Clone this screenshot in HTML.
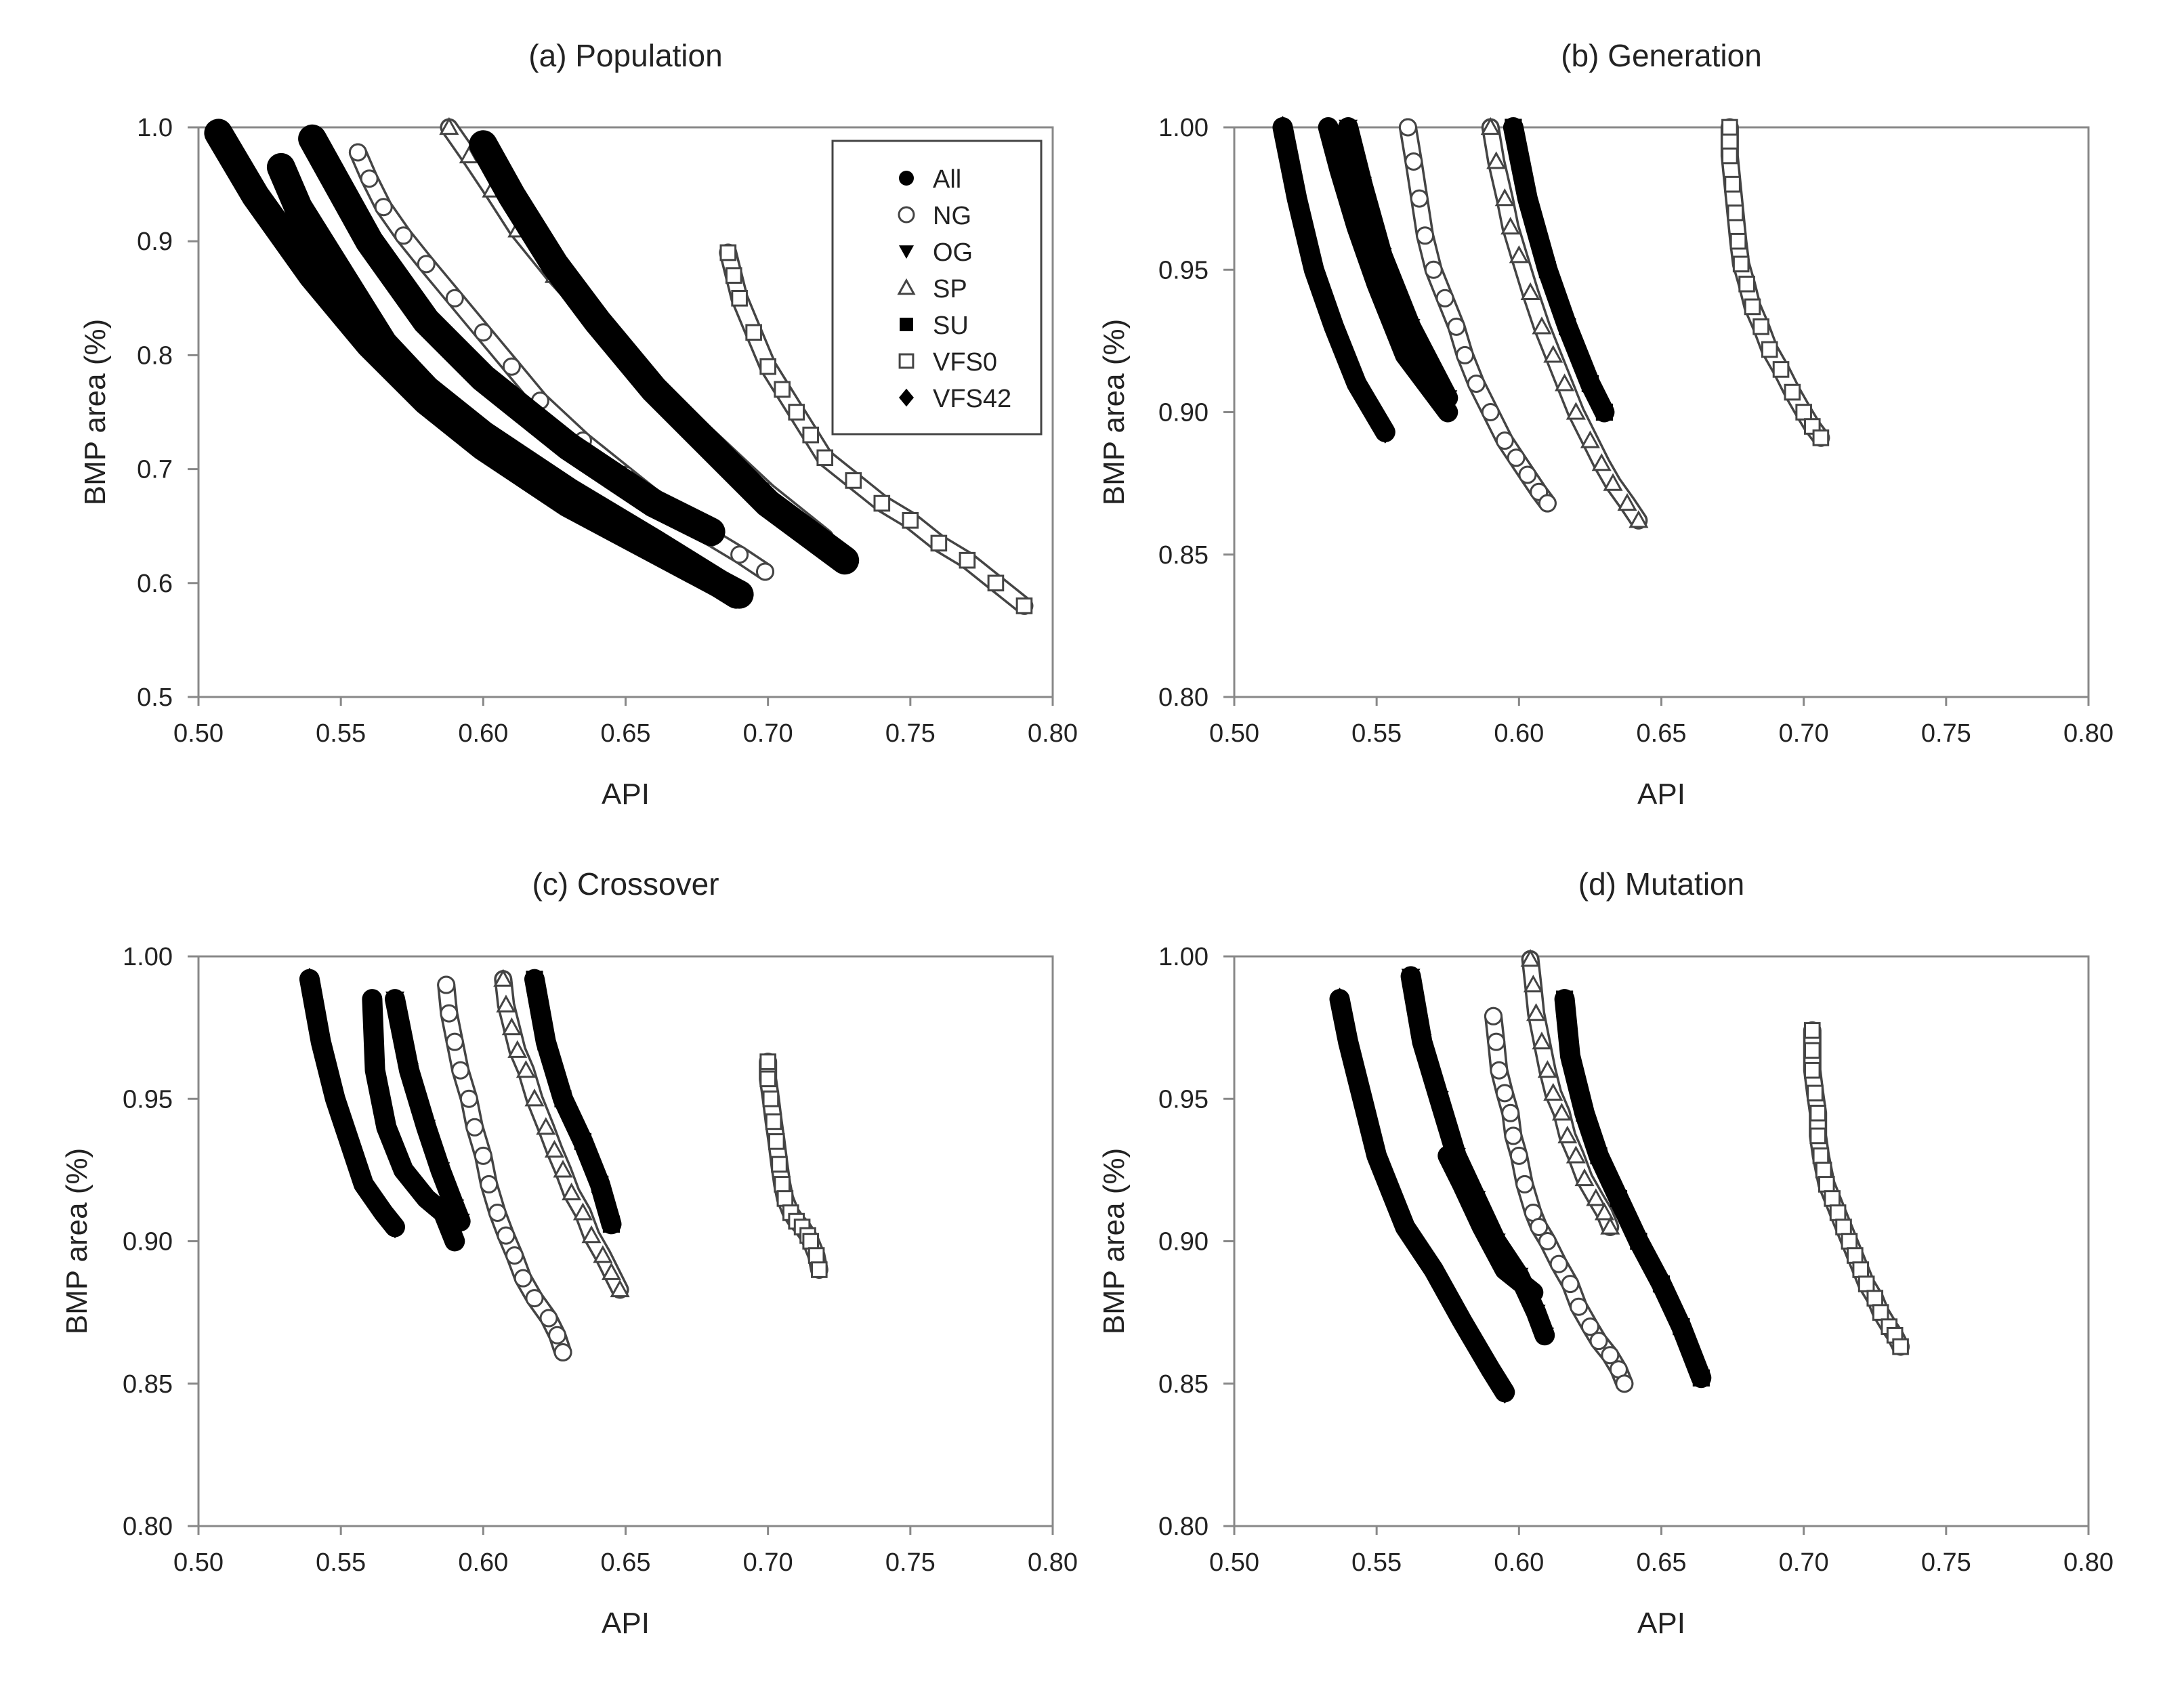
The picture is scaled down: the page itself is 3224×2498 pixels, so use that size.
<!DOCTYPE html>
<html><head><meta charset="utf-8"><style>
html,body{margin:0;padding:0;background:#fff}
svg{display:block}
text{font-family:"Liberation Sans",sans-serif;fill:#222}
</style></head><body>
<svg id="fig" width="3224" height="2498" viewBox="0 0 3224 2498" xmlns="http://www.w3.org/2000/svg"></svg>
<script>
const seriesNames = ["All","NG","OG","SP","SU","VFS0","VFS42"];
const seriesMarkers = ["circle","ocircle","tdown","otup","square","osquare","diamond"];
const xTicks = [0.50,0.55,0.60,0.65,0.70,0.75,0.80];
const xTickLabels = ["0.50","0.55","0.60","0.65","0.70","0.75","0.80"];
const yTicksA = [0.5,0.6,0.7,0.8,0.9,1.0];
const yTickLabelsA = ["0.5","0.6","0.7","0.8","0.9","1.0"];
const yTicksB = [0.80,0.85,0.90,0.95,1.00];
const yTickLabelsB = ["0.80","0.85","0.90","0.95","1.00"];
const panelTitles = ["(a) Population","(b) Generation","(c) Crossover","(d) Mutation"];

const popAll = [[0.529,0.965],[0.535,0.93],[0.55,0.87],[0.565,0.81],[0.58,0.77],[0.60,0.73],[0.63,0.68],[0.66,0.635],[0.689,0.59]];
const popNG = [[0.556,0.978],[0.56,0.955],[0.565,0.93],[0.572,0.905],[0.58,0.88],[0.59,0.85],[0.60,0.82],[0.61,0.79],[0.62,0.76],[0.635,0.725],[0.65,0.695],[0.665,0.665],[0.68,0.64],[0.69,0.625],[0.699,0.61]];
const popOG = [[0.54,0.99],[0.56,0.90],[0.58,0.83],[0.60,0.78],[0.63,0.72],[0.66,0.67],[0.68,0.645]];
const popSP = [[0.588,1.0],[0.595,0.975],[0.603,0.945],[0.612,0.91],[0.625,0.87],[0.645,0.815],[0.67,0.75],[0.70,0.68],[0.72,0.64]];
const popSU = [[0.60,0.985],[0.61,0.94],[0.625,0.88],[0.64,0.83],[0.66,0.77],[0.68,0.72],[0.70,0.67],[0.727,0.62]];
const popVFS0 = [[0.686,0.89],[0.688,0.87],[0.69,0.85],[0.695,0.82],[0.70,0.79],[0.705,0.77],[0.71,0.75],[0.715,0.73],[0.72,0.71],[0.73,0.69],[0.74,0.67],[0.75,0.655],[0.76,0.635],[0.77,0.62],[0.78,0.6],[0.79,0.58]];
const popVFS42 = [[0.507,0.995],[0.52,0.94],[0.54,0.87],[0.56,0.81],[0.58,0.76],[0.60,0.72],[0.63,0.67],[0.66,0.63],[0.69,0.59]];

const genAll = [[0.533,1.0],[0.537,0.985],[0.543,0.965],[0.55,0.945],[0.56,0.92],[0.575,0.9]];
const genNG = [[0.561,1.0],[0.563,0.988],[0.565,0.975],[0.567,0.962],[0.57,0.95],[0.574,0.94],[0.578,0.93],[0.581,0.92],[0.585,0.91],[0.59,0.9],[0.595,0.89],[0.599,0.884],[0.603,0.878],[0.607,0.872],[0.61,0.868]];
const genOG = [[0.54,1.0],[0.545,0.98],[0.552,0.955],[0.562,0.93],[0.575,0.905]];
const genSP = [[0.59,1.0],[0.592,0.988],[0.595,0.975],[0.597,0.965],[0.60,0.955],[0.604,0.942],[0.608,0.93],[0.612,0.92],[0.616,0.91],[0.62,0.9],[0.625,0.89],[0.629,0.882],[0.633,0.875],[0.638,0.868],[0.642,0.862]];
const genSU = [[0.598,1.0],[0.603,0.975],[0.61,0.95],[0.617,0.93],[0.625,0.91],[0.63,0.9]];
const genVFS0 = [[0.674,1.0],[0.674,0.99],[0.675,0.98],[0.676,0.97],[0.677,0.96],[0.678,0.952],[0.68,0.945],[0.682,0.937],[0.685,0.93],[0.688,0.922],[0.692,0.915],[0.696,0.907],[0.70,0.9],[0.703,0.895],[0.706,0.891]];
const genVFS42 = [[0.517,1.0],[0.522,0.975],[0.528,0.95],[0.535,0.93],[0.543,0.91],[0.553,0.893]];

const croAll = [[0.561,0.985],[0.562,0.96],[0.566,0.94],[0.572,0.925],[0.58,0.915],[0.586,0.91],[0.59,0.9]];
const croNG = [[0.587,0.99],[0.588,0.98],[0.59,0.97],[0.592,0.96],[0.595,0.95],[0.597,0.94],[0.60,0.93],[0.602,0.92],[0.605,0.91],[0.608,0.902],[0.611,0.895],[0.614,0.887],[0.618,0.88],[0.623,0.873],[0.626,0.867],[0.628,0.861]];
const croOG = [[0.569,0.985],[0.574,0.96],[0.58,0.94],[0.585,0.925],[0.59,0.912],[0.592,0.907]];
const croSP = [[0.607,0.992],[0.608,0.983],[0.61,0.975],[0.612,0.967],[0.615,0.96],[0.618,0.95],[0.622,0.94],[0.625,0.932],[0.628,0.925],[0.631,0.917],[0.635,0.91],[0.638,0.902],[0.642,0.895],[0.645,0.889],[0.648,0.883]];
const croSU = [[0.618,0.992],[0.622,0.97],[0.628,0.95],[0.635,0.935],[0.641,0.92],[0.645,0.906]];
const croVFS0 = [[0.70,0.963],[0.70,0.957],[0.701,0.95],[0.702,0.942],[0.703,0.935],[0.704,0.927],[0.705,0.92],[0.706,0.915],[0.708,0.91],[0.71,0.907],[0.712,0.905],[0.714,0.902],[0.715,0.90],[0.717,0.895],[0.718,0.89]];
const croVFS42 = [[0.539,0.992],[0.543,0.97],[0.548,0.95],[0.553,0.935],[0.558,0.92],[0.565,0.91],[0.569,0.905]];

const mutAll = [[0.575,0.93],[0.58,0.92],[0.587,0.905],[0.595,0.89],[0.605,0.882]];
const mutNG = [[0.591,0.979],[0.592,0.97],[0.593,0.96],[0.595,0.952],[0.597,0.945],[0.598,0.937],[0.60,0.93],[0.602,0.92],[0.605,0.91],[0.607,0.905],[0.61,0.9],[0.614,0.892],[0.618,0.885],[0.621,0.877],[0.625,0.87],[0.628,0.865],[0.632,0.86],[0.635,0.855],[0.637,0.85]];
const mutOG = [[0.562,0.993],[0.566,0.97],[0.572,0.95],[0.578,0.93],[0.585,0.915],[0.592,0.9],[0.60,0.888],[0.606,0.875],[0.609,0.867]];
const mutSP = [[0.604,0.999],[0.605,0.99],[0.606,0.98],[0.608,0.97],[0.61,0.96],[0.612,0.952],[0.615,0.945],[0.617,0.937],[0.62,0.93],[0.623,0.922],[0.627,0.915],[0.63,0.91],[0.632,0.905]];
const mutSU = [[0.616,0.985],[0.618,0.965],[0.623,0.945],[0.628,0.93],[0.635,0.915],[0.642,0.9],[0.65,0.885],[0.657,0.87],[0.664,0.852]];
const mutVFS0 = [[0.703,0.974],[0.703,0.967],[0.703,0.96],[0.704,0.952],[0.705,0.945],[0.705,0.937],[0.706,0.93],[0.707,0.925],[0.708,0.92],[0.71,0.915],[0.712,0.91],[0.714,0.905],[0.716,0.9],[0.718,0.895],[0.72,0.89],[0.722,0.885],[0.725,0.88],[0.727,0.875],[0.73,0.87],[0.732,0.867],[0.734,0.863]];
const mutVFS42 = [[0.537,0.985],[0.54,0.97],[0.545,0.95],[0.55,0.93],[0.56,0.905],[0.57,0.89],[0.58,0.872],[0.59,0.855],[0.595,0.847]];

const NS="http://www.w3.org/2000/svg";
const svg=document.getElementById('fig');
function mk(tag,attrs,parent){const e=document.createElementNS(NS,tag);for(const k in attrs)e.setAttribute(k,attrs[k]);(parent||svg).appendChild(e);return e;}

const panels=[
 {L:293,R:1554,T:188,B:1029,y0:0.5,y1:1.0,yt:yTicksA,yl:yTickLabelsA,title:panelTitles[0],ty:82,ylx:140,band:42,data:[popAll,popNG,popOG,popSP,popSU,popVFS0,popVFS42],name:'population'},
 {L:1822,R:3083,T:188,B:1029,y0:0.8,y1:1.0,yt:yTicksB,yl:yTickLabelsB,title:panelTitles[1],ty:82,ylx:1644,band:30,data:[genAll,genNG,genOG,genSP,genSU,genVFS0,genVFS42],name:'generation'},
 {L:293,R:1554,T:1412,B:2253,y0:0.8,y1:1.0,yt:yTicksB,yl:yTickLabelsB,title:panelTitles[2],ty:1305,ylx:113,band:30,data:[croAll,croNG,croOG,croSP,croSU,croVFS0,croVFS42],name:'crossover'},
 {L:1822,R:3083,T:1412,B:2253,y0:0.8,y1:1.0,yt:yTicksB,yl:yTickLabelsB,title:panelTitles[3],ty:1305,ylx:1644,band:30,data:[mutAll,mutNG,mutOG,mutSP,mutSU,mutVFS0,mutVFS42],name:'mutation'}
];

function marker(g,type,x,y,r){
  const open=type[0]==='o'; const t=open?type.slice(1):type;
  const st=open?{fill:'#fff',stroke:'#444','stroke-width':3}:{fill:'#000'};
  let e;
  if(t==='circle') e=mk('circle',Object.assign({cx:x,cy:y,r:r},st),g);
  else if(t==='square') e=mk('rect',Object.assign({x:x-r*0.9,y:y-r*0.9,width:r*1.8,height:r*1.8},st),g);
  else if(t==='tdown') e=mk('polygon',Object.assign({points:`${x-r},${y-r*0.8} ${x+r},${y-r*0.8} ${x},${y+r}`},st),g);
  else if(t==='tup') e=mk('polygon',Object.assign({points:`${x-r},${y+r*0.8} ${x+r},${y+r*0.8} ${x},${y-r}`},st),g);
  else if(t==='diamond') e=mk('polygon',Object.assign({points:`${x},${y-r*1.2} ${x+r},${y} ${x},${y+r*1.2} ${x-r},${y}`},st),g);
  return e;
}

panels.forEach(p=>{
  const xs=v=>p.L+(v-0.5)/0.3*(p.R-p.L);
  const ys=v=>p.B-(v-p.y0)/(p.y1-p.y0)*(p.B-p.T);
  const g=mk('g',{});
  
  
  const tt=mk('text',{x:(p.L+p.R)/2,y:p.ty+16,'text-anchor':'middle','font-size':46},g);
  tt.textContent=p.title;
  
  
  const fr=mk('rect',{x:p.L,y:p.T,width:p.R-p.L,height:p.B-p.T,fill:'none',stroke:'#888','stroke-width':3},g);
  
  
  xTicks.forEach((v,i)=>{
    const x=xs(v);
    mk('line',{x1:x,y1:p.B,x2:x,y2:p.B+13,stroke:'#888','stroke-width':3},g);
    const t=mk('text',{x:x,y:p.B+66,'text-anchor':'middle','font-size':38},g);
    t.textContent=xTickLabels[i];
    
    
  });
  p.yt.forEach((v,i)=>{
    const y=ys(v);
    mk('line',{x1:p.L-16,y1:y,x2:p.L,y2:y,stroke:'#888','stroke-width':3},g);
    const t=mk('text',{x:p.L-38,y:y+13,'text-anchor':'end','font-size':38},g);
    t.textContent=p.yl[i];
    
    
  });
  const xt=mk('text',{x:(p.L+p.R)/2,y:p.B+158,'text-anchor':'middle','font-size':44},g);
  xt.textContent='API';
  
  
  const yc=(p.T+p.B)/2;
  const yt=mk('text',{x:p.ylx,y:yc,'text-anchor':'middle','font-size':44,transform:`rotate(-90 ${p.ylx} ${yc})`,dy:15},g);
  yt.textContent='BMP area (%)';
  
  
  p.data.forEach((pts,si)=>{
    const type=seriesMarkers[si]; const open=type[0]==='o';
    const sg=mk('g',{},g);
    
    
    const d=pts.map(q=>xs(q[0]).toFixed(1)+','+ys(q[1]).toFixed(1)).join(' ');
    if(open){
      mk('polyline',{points:d,fill:'none',stroke:'#444','stroke-width':27,'stroke-linejoin':'round','stroke-linecap':'round'},sg);
      mk('polyline',{points:d,fill:'none',stroke:'#fff','stroke-width':20,'stroke-linejoin':'round','stroke-linecap':'round'},sg);
      pts.forEach(q=>marker(sg,type,xs(q[0]),ys(q[1]),12));
    } else {
      mk('polyline',{points:d,fill:'none',stroke:'#000','stroke-width':p.band,'stroke-linejoin':'round','stroke-linecap':'round'},sg);
      pts.forEach(q=>marker(sg,type,xs(q[0]),ys(q[1]),14));
    }
  });
});

const lg=mk('g',{});


mk('rect',{x:1229,y:208,width:308,height:433,fill:'#fff',stroke:'#444','stroke-width':3},lg);
seriesNames.forEach((n,i)=>{
  const y=263+i*54;
  const eg=mk('g',{},lg);
  
  
  marker(eg,seriesMarkers[i],1338,y,11);
  const t=mk('text',{x:1377,y:y+14,'font-size':38},eg);
  t.textContent=n;
});
</script>
</body></html>
